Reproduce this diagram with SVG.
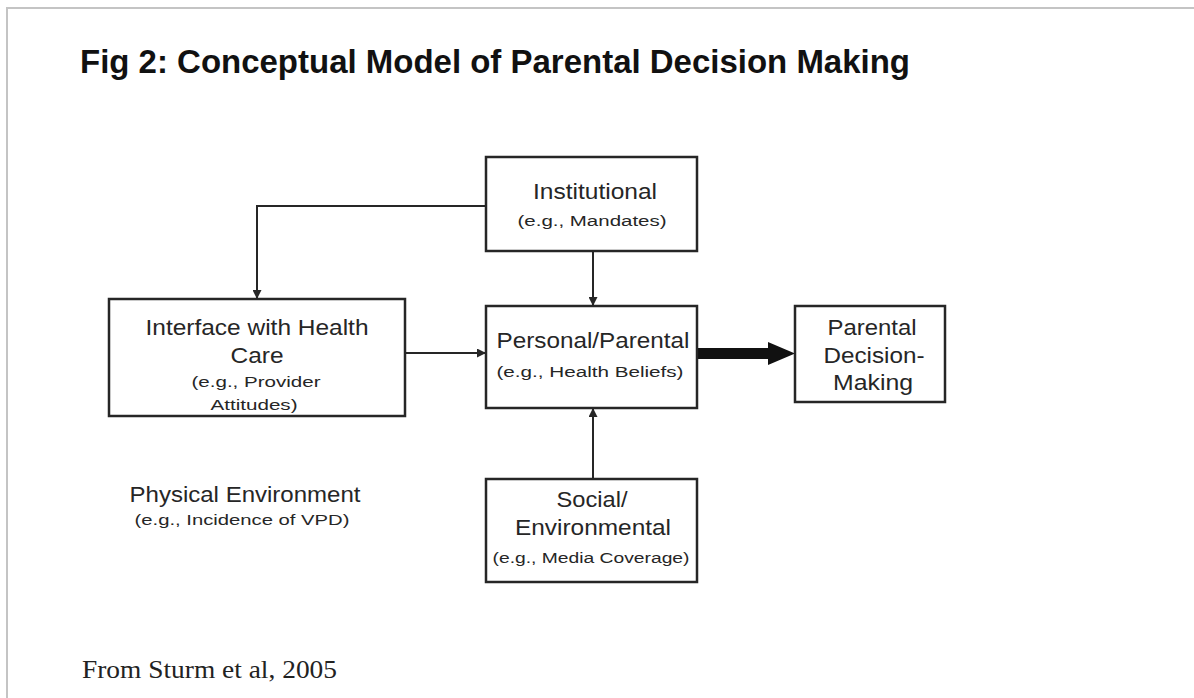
<svg xmlns="http://www.w3.org/2000/svg" width="1194" height="698" viewBox="0 0 1194 698">
  <style>
    .box { fill: #ffffff; stroke: #262626; stroke-width: 2.5; }
    .lbl { font-family: "Liberation Sans", Arial, sans-serif; fill: #262626; text-anchor: middle; }
    .main { font-size: 22px; }
    .sub { font-size: 15.5px; }
    .conn { fill: none; stroke: #262626; stroke-width: 2; }
  </style>
  <defs>
    <marker id="tip" viewBox="0 0 10 10" refX="10" refY="5" markerWidth="4.5" markerHeight="4.5" orient="auto" markerUnits="strokeWidth">
      <path d="M0,0 L10,5 L0,10 Z" fill="#262626"/>
    </marker>
  </defs>

  <!-- page frame -->
  <rect x="0" y="0" width="1194" height="698" fill="#ffffff"/>
  <path d="M7,698 V8 H1194" fill="none" stroke="#c4c4c4" stroke-width="2"/>

  <!-- title -->
  <text x="80" y="73" font-family="'Liberation Sans', Arial, sans-serif" font-weight="bold" font-size="34" fill="#111111" textLength="830" lengthAdjust="spacingAndGlyphs">Fig 2: Conceptual Model of Parental Decision Making</text>

  <!-- connectors -->
  <g id="connectors">
    <path class="conn" d="M486,206 H257 V299" marker-end="url(#tip)"/>
    <path class="conn" d="M593,251 V306" marker-end="url(#tip)"/>
    <path class="conn" d="M405,353 H486" marker-end="url(#tip)"/>
    <path class="conn" d="M593,479 V408" marker-end="url(#tip)"/>
    <path d="M697,348 H768 V342 L795,353.5 L768,365 V359 H697 Z" fill="#111111"/>
  </g>

  <g id="institutional">
    <rect class="box" x="486" y="157" width="211" height="94"/>
    <text class="lbl main" x="595" y="199" textLength="124" lengthAdjust="spacingAndGlyphs">Institutional</text>
    <text class="lbl sub" x="592" y="226" textLength="149" lengthAdjust="spacingAndGlyphs">(e.g., Mandates)</text>
  </g>

  <g id="interface">
    <rect class="box" x="109" y="299" width="296" height="117"/>
    <text class="lbl main" x="257" y="335" textLength="223" lengthAdjust="spacingAndGlyphs">Interface with Health</text>
    <text class="lbl main" x="257" y="363" textLength="53" lengthAdjust="spacingAndGlyphs">Care</text>
    <text class="lbl sub" x="256" y="387" textLength="129" lengthAdjust="spacingAndGlyphs">(e.g., Provider</text>
    <text class="lbl sub" x="254" y="410" textLength="87" lengthAdjust="spacingAndGlyphs">Attitudes)</text>
  </g>

  <g id="personal">
    <rect class="box" x="486" y="306" width="211" height="102"/>
    <text class="lbl main" x="593" y="348" textLength="193" lengthAdjust="spacingAndGlyphs">Personal/Parental</text>
    <text class="lbl sub" x="590" y="377" textLength="187" lengthAdjust="spacingAndGlyphs">(e.g., Health Beliefs)</text>
  </g>

  <g id="decision">
    <rect class="box" x="795" y="306" width="150" height="96"/>
    <text class="lbl main" x="872" y="335" textLength="89" lengthAdjust="spacingAndGlyphs">Parental</text>
    <text class="lbl main" x="874" y="363" textLength="101" lengthAdjust="spacingAndGlyphs">Decision-</text>
    <text class="lbl main" x="873" y="390" textLength="80" lengthAdjust="spacingAndGlyphs">Making</text>
  </g>

  <g id="social">
    <rect class="box" x="486" y="479" width="211" height="103"/>
    <text class="lbl main" x="592" y="507" textLength="71" lengthAdjust="spacingAndGlyphs">Social/</text>
    <text class="lbl main" x="593" y="535" textLength="156" lengthAdjust="spacingAndGlyphs">Environmental</text>
    <text class="lbl sub" x="591" y="563" textLength="197" lengthAdjust="spacingAndGlyphs">(e.g., Media Coverage)</text>
  </g>

  <g id="physical">
    <text class="lbl main" x="245" y="502" textLength="231" lengthAdjust="spacingAndGlyphs">Physical Environment</text>
    <text class="lbl sub" x="242" y="525" textLength="215" lengthAdjust="spacingAndGlyphs">(e.g., Incidence of VPD)</text>
  </g>

  <!-- source note -->
  <text x="82" y="678" font-family="'Liberation Serif', 'Times New Roman', serif" font-size="25" fill="#222222" textLength="255" lengthAdjust="spacingAndGlyphs">From Sturm et al, 2005</text>
</svg>
